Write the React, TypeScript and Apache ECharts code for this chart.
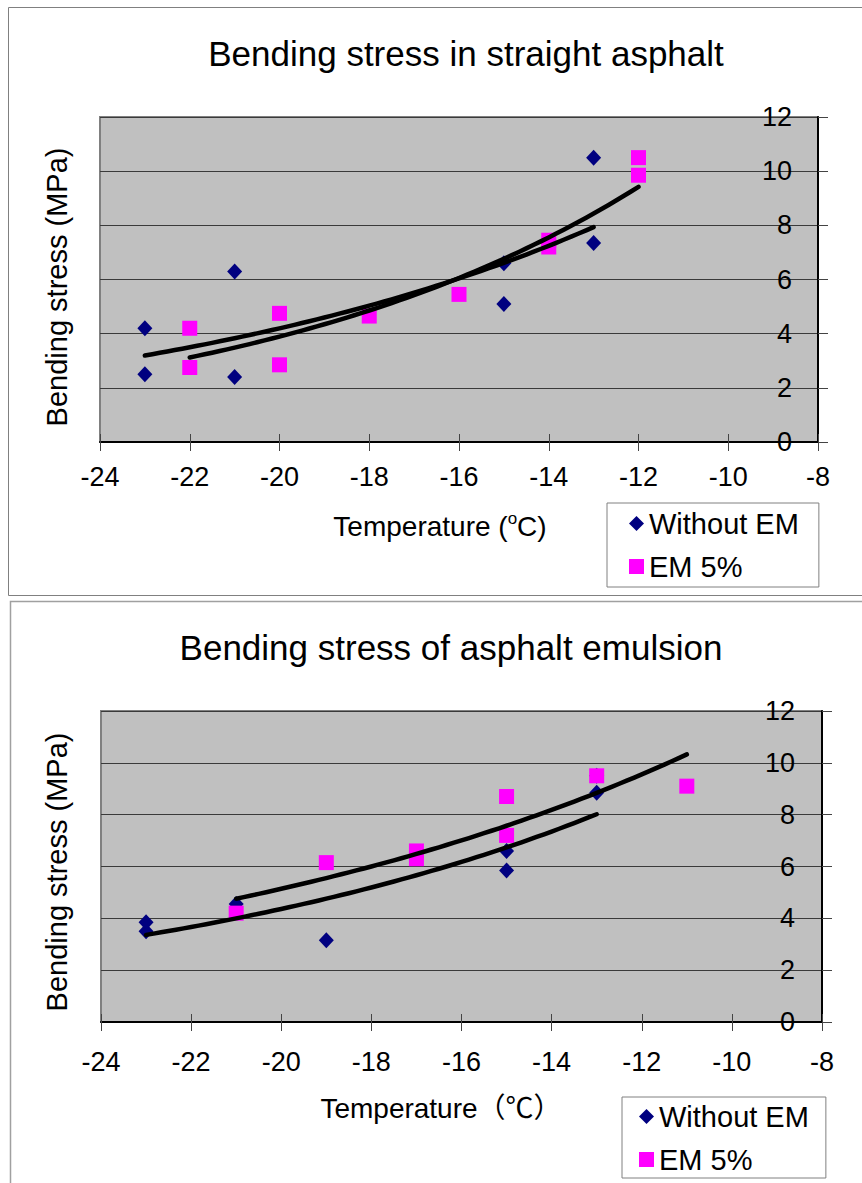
import React, { useEffect, useRef } from "react";
import * as echarts from "echarts";

// ---- Data ----
const xTicks = [-24, -22, -20, -18, -16, -14, -12, -10, -8];
const yTicks = [0, 2, 4, 6, 8, 10, 12];

const topTitle = "Bending stress in straight asphalt";
const bottomTitle = "Bending stress of asphalt emulsion";
const yTitle = "Bending stress (MPa)";
const seriesNames = ["Without EM", "EM 5%"];

// Top chart: straight asphalt
const topWithoutX = [-23, -23, -21, -21, -15, -15, -13, -13];
const topWithoutY = [4.2, 2.5, 6.3, 2.4, 6.6, 5.1, 10.5, 7.35];
const topEmX = [-22, -22, -20, -20, -18, -16, -14, -14, -12, -12];
const topEmY = [4.2, 2.75, 4.75, 2.85, 4.65, 5.45, 7.45, 7.2, 10.5, 9.85];

// Bottom chart: asphalt emulsion
const botWithoutX = [-23, -23, -21, -19, -15, -15, -13, -13];
const botWithoutY = [3.85, 3.5, 4.55, 3.15, 6.6, 5.85, 8.85, 9.5];
const botEmX = [-21, -19, -17, -17, -15, -15, -13, -11];
const botEmY = [4.2, 6.15, 6.6, 6.3, 8.7, 7.2, 9.5, 9.1];

const FONT = "'Liberation Sans', Arial, 'Noto Sans CJK SC', sans-serif";
const NAVY = "#000080";
const MAGENTA = "#FF00FF";

function pairs(xs: number[], ys: number[]) {
  return xs.map((x, i) => [x, ys[i]]);
}

// Exponential trendline (least squares on ln y), as a spreadsheet would draw it
function expTrend(xs: number[], ys: number[]) {
  const n = xs.length;
  const ly = ys.map((v) => Math.log(v));
  const mx = xs.reduce((s, v) => s + v, 0) / n;
  const my = ly.reduce((s, v) => s + v, 0) / n;
  let sxx = 0;
  let sxy = 0;
  for (let i = 0; i < n; i++) {
    sxx += (xs[i] - mx) * (xs[i] - mx);
    sxy += (xs[i] - mx) * (ly[i] - my);
  }
  const b = sxy / sxx;
  const a = my - b * mx;
  const x0 = Math.min(...xs);
  const x1 = Math.max(...xs);
  const pts: number[][] = [];
  const steps = 60;
  for (let i = 0; i <= steps; i++) {
    const x = x0 + ((x1 - x0) * i) / steps;
    pts.push([x, Math.exp(a + b * x)]);
  }
  return pts;
}

function mainX(gridIndex: number, labelMargin: number) {
  return {
    type: "value",
    gridIndex,
    position: "bottom",
    min: -24,
    max: -8,
    interval: 2,
    axisLine: { show: true, onZero: false, lineStyle: { color: "#000", width: 2 } },
    axisTick: { show: true, inside: false, length: 9, lineStyle: { color: "#444", width: 1 } },
    axisLabel: {
      show: true,
      margin: labelMargin,
      fontSize: 27,
      color: "#000",
      fontFamily: FONT,
      customValues: xTicks,
    },
    splitLine: { show: false },
  };
}

function overlayX(gridIndex: number) {
  return {
    type: "value",
    gridIndex,
    position: "bottom",
    min: -24,
    max: -8,
    interval: 2,
    axisLine: { show: false },
    axisTick: { show: true, inside: true, length: 8, lineStyle: { color: "#444", width: 1 } },
    axisLabel: { show: false },
    splitLine: { show: false },
  };
}

function mainY(gridIndex: number, labelMargin: number) {
  return {
    type: "value",
    gridIndex,
    position: "right",
    min: 0,
    max: 12,
    interval: 2,
    axisLine: { show: true, onZero: false, lineStyle: { color: "#000", width: 2 } },
    axisTick: { show: true, inside: false, length: 10, lineStyle: { color: "#444", width: 1 } },
    axisLabel: {
      show: true,
      inside: true,
      margin: labelMargin,
      fontSize: 27,
      color: "#000",
      fontFamily: FONT,
      customValues: yTicks,
    },
    splitLine: { show: true, lineStyle: { color: "#3a3a3a", width: 1 } },
  };
}

function scatter(name: string, xi: number, yi: number, data: number[][], symbol: string, color: string, size: any) {
  return {
    type: "scatter",
    name,
    xAxisIndex: xi,
    yAxisIndex: yi,
    data,
    symbol,
    symbolSize: size,
    itemStyle: { color, opacity: 1 },
    z: 3,
  };
}

function trend(xi: number, yi: number, data: number[][]) {
  return {
    type: "line",
    name: "trend",
    xAxisIndex: xi,
    yAxisIndex: yi,
    data,
    showSymbol: false,
    symbol: "none",
    smooth: false,
    lineStyle: { color: "#000", width: 4.5, cap: "round", join: "round" },
    z: 5,
    silent: true,
  };
}

function legend(left: number, top: number, padding: number[]) {
  return {
    show: true,
    orient: "vertical",
    left,
    top,
    padding,
    itemGap: 14,
    itemWidth: 15,
    itemHeight: 15,
    backgroundColor: "#fff",
    borderColor: "#808080",
    borderWidth: 1,
    borderRadius: 0,
    selectedMode: false,
    textStyle: { fontSize: 29, color: "#000", fontFamily: FONT },
    data: [
      { name: seriesNames[0], icon: "diamond", itemStyle: { color: NAVY, opacity: 1 } },
      { name: seriesNames[1], icon: "rect", itemStyle: { color: MAGENTA, opacity: 1 } },
    ],
  };
}

export default function App() {
  const ref = useRef<HTMLDivElement>(null);

  useEffect(() => {
    if (!ref.current) return;
    const chart = echarts.init(ref.current, null, { renderer: "svg" });

    const option: any = {
      animation: false,
      backgroundColor: "#fff",
      title: [
        {
          text: topTitle,
          left: 461,
          top: 31,
          textAlign: "center",
          textStyle: { fontSize: 35, fontWeight: "normal", color: "#000", fontFamily: FONT },
        },
        {
          text: bottomTitle,
          left: 446,
          top: 625,
          textAlign: "center",
          textStyle: { fontSize: 35, fontWeight: "normal", color: "#000", fontFamily: FONT },
        },
      ],
      legend: [legend(607, 503, [6, 20, 6, 22]), legend(622, 1097, [5, 17, 4, 17])],
      grid: [
        {
          left: 100,
          top: 117,
          width: 718,
          height: 325,
          show: true,
          backgroundColor: "#C0C0C0",
          borderColor: "#808080",
          borderWidth: 2,
        },
        {
          left: 101,
          top: 711,
          width: 721,
          height: 311,
          show: true,
          backgroundColor: "#C0C0C0",
          borderColor: "#808080",
          borderWidth: 2,
        },
      ],
      xAxis: [mainX(0, 21), overlayX(0), mainX(1, 26), overlayX(1)],
      yAxis: [mainY(0, 26), mainY(1, 27)],
      series: [
        scatter(seriesNames[0], 0, 0, pairs(topWithoutX, topWithoutY), "diamond", NAVY, [15, 16]),
        scatter(seriesNames[1], 0, 0, pairs(topEmX, topEmY), "rect", MAGENTA, 15),
        trend(0, 0, expTrend(topWithoutX, topWithoutY)),
        trend(0, 0, expTrend(topEmX, topEmY)),
        scatter(seriesNames[0], 2, 1, pairs(botWithoutX, botWithoutY), "diamond", NAVY, [15, 16]),
        scatter(seriesNames[1], 2, 1, pairs(botEmX, botEmY), "rect", MAGENTA, 15),
        trend(2, 1, expTrend(botWithoutX, botWithoutY)),
        trend(2, 1, expTrend(botEmX, botEmY)),
      ],
      graphic: [
        {
          type: "rect",
          shape: { x: 8.5, y: 7.5, width: 900, height: 588 },
          style: { fill: "none", stroke: "#808080", lineWidth: 1 },
          silent: true,
          z: 0,
        },
        {
          type: "rect",
          shape: { x: 10.5, y: 601.5, width: 900, height: 700 },
          style: { fill: "none", stroke: "#a0a0a0", lineWidth: 1.5 },
          silent: true,
          z: 0,
        },
        {
          type: "text",
          x: 57,
          y: 287,
          rotation: Math.PI / 2,
          style: {
            text: yTitle,
            fontSize: 29,
            fontFamily: FONT,
            fill: "#000",
            align: "center",
            verticalAlign: "middle",
          },
        },
        {
          type: "text",
          x: 57,
          y: 872,
          rotation: Math.PI / 2,
          style: {
            text: yTitle,
            fontSize: 29,
            fontFamily: FONT,
            fill: "#000",
            align: "center",
            verticalAlign: "middle",
          },
        },
        {
          type: "text",
          x: 440,
          y: 525,
          style: {
            text: "{a|Temperature (}{s|o}{a|C)}",
            align: "center",
            verticalAlign: "middle",
            rich: {
              a: { fontSize: 28, fontFamily: FONT, fill: "#000", lineHeight: 30, verticalAlign: "bottom" },
              s: { fontSize: 17, fontFamily: FONT, fill: "#000", lineHeight: 30, verticalAlign: "top" },
            },
          },
        },
        {
          type: "text",
          x: 441,
          y: 1108,
          style: {
            text: "Temperature（℃）",
            fontSize: 28,
            fontFamily: FONT,
            fill: "#000",
            align: "center",
            verticalAlign: "middle",
          },
        },
      ],
    };

    chart.setOption(option);
    return () => chart.dispose();
  }, []);

  return (
    <div
      ref={ref}
      style={{ position: "absolute", left: 0, top: 0, width: 862, height: 1183 }}
    />
  );
}
